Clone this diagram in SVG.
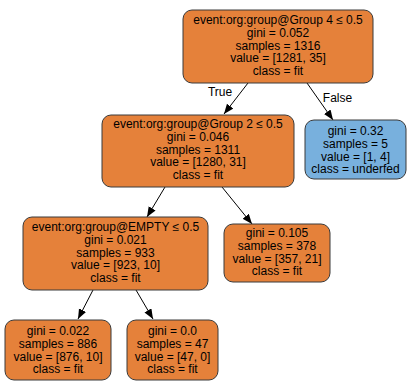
<svg xmlns="http://www.w3.org/2000/svg" width="408" height="382" viewBox="0 0 408 382">
  <style>
    .box { stroke: #3a3a3a; stroke-width: 1; }
    .fit { fill: #e5813a; }
    .und { fill: #78b0dd; }
    text { font-family: "Liberation Sans", Arial, sans-serif; font-size: 12px; fill: #000; text-anchor: middle; }
    .edge { stroke: #000; stroke-width: 1; fill: none; marker-end: url(#arrow); }
  </style>
  <defs>
    <marker id="arrow" markerUnits="userSpaceOnUse" markerWidth="11" markerHeight="9" refX="10" refY="4" orient="auto">
      <path d="M0,0 L10,4 L0,8 Z" fill="#000"/>
    </marker>
  </defs>
  <rect width="408" height="382" fill="#fff"/>

  <g id="edges">
    <line class="edge" x1="248" y1="83" x2="224" y2="114"/>
    <line class="edge" x1="307" y1="83" x2="333" y2="120"/>
    <line class="edge" x1="165" y1="187" x2="147" y2="217"/>
    <line class="edge" x1="222" y1="187" x2="252" y2="224"/>
    <line class="edge" x1="93" y1="290" x2="78" y2="319"/>
    <line class="edge" x1="136" y1="290" x2="153" y2="319"/>
    <text x="220" y="96">True</text>
    <text x="337.5" y="102">False</text>
  </g>

  <g id="node0">
    <rect class="box fit" x="183" y="10" width="190" height="73" rx="9"/>
    <text x="278" y="24">event:org:group@Group 4 ≤ 0.5</text>
    <text x="278" y="37">gini = 0.052</text>
    <text x="278" y="49.5">samples = 1316</text>
    <text x="278" y="62">value = [1281, 35]</text>
    <text x="278" y="75">class = fit</text>
  </g>

  <g id="node1">
    <rect class="box fit" x="102" y="115" width="192" height="72" rx="9"/>
    <text x="198" y="128">event:org:group@Group 2 ≤ 0.5</text>
    <text x="198" y="141">gini = 0.046</text>
    <text x="198" y="153.5">samples = 1311</text>
    <text x="198" y="166">value = [1280, 31]</text>
    <text x="198" y="179">class = fit</text>
  </g>

  <g id="node6">
    <rect class="box und" x="305" y="120" width="101" height="59" rx="9"/>
    <text x="355.5" y="135">gini = 0.32</text>
    <text x="355.5" y="148">samples = 5</text>
    <text x="355.5" y="160.5">value = [1, 4]</text>
    <text x="355.5" y="173">class = underfed</text>
  </g>

  <g id="node2">
    <rect class="box fit" x="23" y="217" width="185" height="73" rx="9"/>
    <text x="115.5" y="231">event:org:group@EMPTY ≤ 0.5</text>
    <text x="115.5" y="244">gini = 0.021</text>
    <text x="115.5" y="256.5">samples = 933</text>
    <text x="115.5" y="269">value = [923, 10]</text>
    <text x="115.5" y="282">class = fit</text>
  </g>

  <g id="node5">
    <rect class="box fit" x="224" y="224" width="106" height="58" rx="9"/>
    <text x="277" y="237">gini = 0.105</text>
    <text x="277" y="250">samples = 378</text>
    <text x="277" y="262.5">value = [357, 21]</text>
    <text x="277" y="275">class = fit</text>
  </g>

  <g id="node3">
    <rect class="box fit" x="5" y="320" width="106" height="60" rx="9"/>
    <text x="58" y="335">gini = 0.022</text>
    <text x="58" y="348">samples = 886</text>
    <text x="58" y="360.5">value = [876, 10]</text>
    <text x="58" y="373">class = fit</text>
  </g>

  <g id="node4">
    <rect class="box fit" x="127" y="320" width="91" height="60" rx="9"/>
    <text x="172.5" y="335">gini = 0.0</text>
    <text x="172.5" y="348">samples = 47</text>
    <text x="172.5" y="360.5">value = [47, 0]</text>
    <text x="172.5" y="373">class = fit</text>
  </g>
</svg>
